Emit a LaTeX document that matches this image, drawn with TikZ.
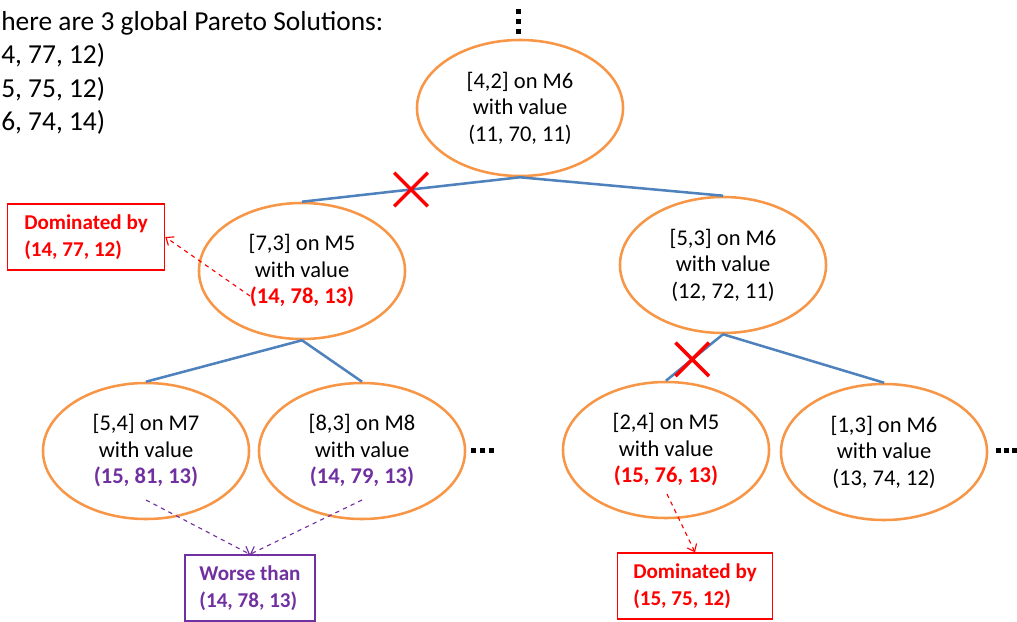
\documentclass[tikz,border=0pt]{standalone}
\usepackage{fontspec}
\setmainfont{Carlito}
\usetikzlibrary{shapes.geometric}
\usetikzlibrary{shapes.misc}
\usetikzlibrary{arrows.meta}
\definecolor{nodeorange}{RGB}{247,150,70}
\definecolor{edgeblue}{RGB}{79,129,189}
\definecolor{worsepurple}{RGB}{112,48,160}
\tikzstyle{solution}=[ellipse, draw=nodeorange, line width=1.8pt, minimum width=5.15cm, minimum height=3.4cm, inner sep=0, align=center, font=\fontsize{16}{18.8}\selectfont]
\tikzstyle{branch}=[draw=edgeblue, line width=1.8pt]
\tikzstyle{pruned}=[cross out, draw=red, line width=2.5pt, minimum size=0.75cm, inner sep=0]
\tikzstyle{note}=[draw, line width=1pt, align=left, inner sep=0, font=\fontsize{15}{19.2}\selectfont\bfseries]
\tikzstyle{pointer}=[dashed, line width=0.8pt, -{Straight Barb[length=1.6mm, width=2.6mm]}]
\newcommand{\domval}[1]{\textcolor{red}{\textbf{#1}}}
\newcommand{\worseval}[1]{\textcolor{worsepurple}{\textbf{#1}}}

\begin{document}
\begin{tikzpicture}[x=0.025cm, y=-0.025cm]
      \useasboundingbox (0, 0) rectangle (1017, 622);

      \node[anchor=north west, inner sep=0, align=left, font=\fontsize{19.5}{23.8}\selectfont] (pareto) at (1, 11) {here are 3 global Pareto Solutions:\\4, 77, 12)\\5, 75, 12)\\6, 74, 14)};

      \node[solution] (root) at (520, 108) {[4,2] on M6\\with value\\(11, 70, 11)};

      \node[solution] (a) at (302, 271) {[7,3] on M5\\with value\\\domval{(14, 78, 13)}};
      \node[solution] (b) at (723, 265) {[5,3] on M6\\with value\\(12, 72, 11)};

      \node[solution] (aa) at (146, 451) {[5,4] on M7\\with value\\\worseval{(15, 81, 13)}};
      \node[solution] (ab) at (362, 451) {[8,3] on M8\\with value\\\worseval{(14, 79, 13)}};
      \node[solution] (ba) at (666, 450) {[2,4] on M5\\with value\\\domval{(15, 76, 13)}};
      \node[solution] (bb) at (884, 452) {[1,3] on M6\\with value\\(13, 74, 12)};

      \node[note, draw=red, text=red, minimum width=3.93cm, minimum height=1.65cm] (dom_a) at (86, 237) {Dominated by\\(14, 77, 12)};
      \node[note, draw=worsepurple, text=worsepurple, minimum width=3.25cm, minimum height=1.65cm] (worse) at (250, 588) {Worse than\\(14, 78, 13)};
      \node[note, draw=red, text=red, minimum width=3.88cm, minimum height=1.65cm] (dom_ba) at (695, 586) {Dominated by\\(15, 75, 12)};

      \coordinate (a_val) at (250, 296);
      \coordinate (aa_val) at (146, 500);
      \coordinate (ab_val) at (362, 500);
      \coordinate (ba_val) at (667, 494);

      \draw[branch] (root.south) to node[pos=0.5, pruned] {} (a.north);
      \draw[branch] (root.south) to (b.north);
      \draw[branch] (a.south) to (aa.north);
      \draw[branch] (a.south) to (ab.north);
      \draw[branch] (b.south) to node[pos=0.54, pruned] {} (ba.north);
      \draw[branch] (b.south) to (bb.north);

      \draw[pointer, red] (a_val) to (dom_a.east);
      \draw[pointer, worsepurple] (aa_val) to (worse.north);
      \draw[pointer, worsepurple] (ab_val) to (worse.north);
      \draw[pointer, red] (ba_val) to (dom_ba.north);

      % more nodes above and beside
      \foreach \y in {12, 22, 32} \fill ({518-2.5}, {\y-2.5}) rectangle ++(5, 5);
      \foreach \x in {473, 482, 491, 998, 1006, 1014} \fill ({\x-2.5}, {450-2.5}) rectangle ++(5, 5);
    \end{tikzpicture}
\end{document}
